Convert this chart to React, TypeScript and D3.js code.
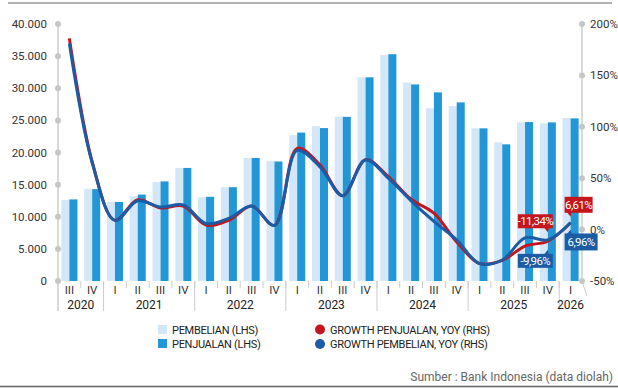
import React from "react";
import * as d3 from "d3";

const quarters = ["III","IV","I","II","III","IV","I","II","III","IV","I","II","III","IV","I","II","III","IV","I","II","III","IV","I"];
const years = ["2020","2020","2021","2021","2021","2021","2022","2022","2022","2022","2023","2023","2023","2023","2024","2024","2024","2024","2025","2025","2025","2025","2026"];
const pembelian = [12600,14300,12300,13200,15400,17600,13050,14600,19150,18700,22700,24100,25600,31700,35160,30900,26870,27230,23760,21580,24690,24540,25360];
const penjualan = [12700,14300,12300,13450,15500,17600,13100,14600,19150,18600,23100,23800,25550,31700,35300,30600,29360,27800,23760,21270,24740,24690,25310];
const growthPembelian = [181,65,9,28,22,24,6,11,23,4,77,61,33,68,50,28,8,-10,-33,-29.6,-8,-9.96,6.96];
const growthPenjualan = [186,66,9,29,21,23,4.5,9,23,4,79,63,33,68,51.5,29.5,16,-12,-33,-30,-16,-11.34,6.61];
const leftTicks = [0,5000,10000,15000,20000,25000,30000,35000,40000];
const rightTicks = [-50,0,50,100,150,200];

const W = 618, H = 388;
const C_LIGHT = "#d3e7f8";
const C_DARK = "#2397d6";
const C_RED = "#c4161c";
const C_BLUE = "#1b5ca5";
const FONT = "Roboto, 'DejaVu Sans', sans-serif";

export default function App() {
  const idx = quarters.map((_, i) => String(i));
  const x = d3.scaleBand().domain(idx).range([58, 582]).padding(0);
  const bw = x.bandwidth();
  const x1 = d3.scaleBand().domain(["p", "j"]).range([0, bw]).paddingInner(0).paddingOuter(0.42);
  const yL = d3.scaleLinear().domain([0, 40000]).range([281, 24]);
  const yR = d3.scaleLinear().domain([-50, 200]).range([281, 24]);
  const cx = (i: number) => (x(String(i)) as number) + bw / 2;

  const line = (vals: number[]) =>
    d3.line<number>().x((_, i) => cx(i)).y((v) => yR(v)).curve(d3.curveCatmullRom.alpha(0.5))(vals) as string;

  const yearGroups: { year: string; start: number; end: number }[] = [];
  years.forEach((yr, i) => {
    const last = yearGroups[yearGroups.length - 1];
    if (last && last.year === yr) last.end = i;
    else yearGroups.push({ year: yr, start: i, end: i });
  });
  const fmtL = (v: number) => d3.format(",")(v).replace(/,/g, ".");
  const fmtPct = (v: number) => d3.format(".2f")(v).replace(".", ",").replace("−", "-") + "%";

  const n = quarters.length;
  const lastI = n - 1;
  const prevI = n - 2;

  const labels = [
    { i: prevI, v: growthPenjualan[prevI], color: C_RED, dir: "down", w: 35, h: 14, gap: 13 },
    { i: prevI, v: growthPembelian[prevI], color: C_BLUE, dir: "up", w: 35, h: 14, gap: 14 },
    { i: lastI, v: growthPenjualan[lastI], color: C_RED, dir: "down", w: 28, h: 16, gap: 10 },
    { i: lastI, v: growthPembelian[lastI], color: C_BLUE, dir: "up", w: 33, h: 17, gap: 11 },
  ];

  return (
    <svg width={W} height={H} style={{ position: "absolute", left: 0, top: 0, fontFamily: FONT }}>
      <rect x={0} y={0} width={W} height={H} fill="#fff" />
      <line x1={8} x2={612} y1={3} y2={3} stroke="#9a9a9a" strokeWidth={1.5} />
      <line x1={0} x2={618} y1={386.5} y2={386.5} stroke="#666" strokeWidth={1.5} />

      {pembelian.map((v, i) => (
        <rect key={"p" + i} x={(x(String(i)) as number) + (x1("p") as number)} y={yL(v)} width={x1.bandwidth()} height={yL(0) - yL(v)} fill={C_LIGHT} />
      ))}
      {penjualan.map((v, i) => (
        <rect key={"j" + i} x={(x(String(i)) as number) + (x1("j") as number)} y={yL(v)} width={x1.bandwidth()} height={yL(0) - yL(v)} fill={C_DARK} />
      ))}

      <line x1={58} x2={58} y1={yL(40000)} y2={311} stroke="#cccccc" strokeWidth={1.5} />
      {leftTicks.map((t) => (
        <g key={"lt" + t}>
          <circle cx={58} cy={yL(t)} r={3} fill="#c6c6c6" />
          <text x={47} y={yL(t)} dy="0.35em" textAnchor="end" fontSize={11.5} fill="#333">{fmtL(t)}</text>
        </g>
      ))}
      <line x1={582} x2={582} y1={yR(200)} y2={yR(-50)} stroke="#cccccc" strokeWidth={1.5} />
      <line x1={582} x2={587} y1={yR(-50)} y2={296} stroke="#cccccc" strokeWidth={1} />
      {rightTicks.map((t) => (
        <g key={"rt" + t}>
          <circle cx={582} cy={yR(t)} r={3} fill="#c6c6c6" />
          <text x={590} y={yR(t)} dy="0.35em" textAnchor="start" fontSize={11.5} fill="#333">{t + "%"}</text>
        </g>
      ))}

      {quarters.map((q, i) => (
        <g key={"q" + i}>
          {i > 0 && <line x1={x(String(i))} x2={x(String(i))} y1={281} y2={288} stroke="#cccccc" strokeWidth={1} />}
          <text x={cx(i)} y={290} dy="0.35em" textAnchor="middle" fontSize={11.5} fill="#333">{q}</text>
        </g>
      ))}
      {yearGroups.map((g, k) => {
        const x0 = x(String(g.start)) as number;
        const xEnd = (x(String(g.end)) as number) + bw;
        return (
          <g key={"y" + g.year}>
            {k > 0 && <line x1={x0} x2={x0} y1={281} y2={311} stroke="#cccccc" strokeWidth={1} />}
            <text x={(x0 + xEnd) / 2} y={305} dy="0.35em" textAnchor="middle" fontSize={12} fill="#222">{g.year}</text>
          </g>
        );
      })}

      <path d={line(growthPenjualan)} fill="none" stroke={C_RED} strokeWidth={3} />
      <path d={line(growthPembelian)} fill="none" stroke={C_BLUE} strokeWidth={3} />

      {labels.map((l, k) => {
        const px = cx(l.i);
        const py = yR(l.v);
        const h = l.h;
        const bx = l.i === lastI ? px - 6 : px - l.w + 5;
        const by = l.dir === "down" ? py - l.gap - h : py + l.gap;
        const tri = l.dir === "down"
          ? `M${px - 4},${by + h - 1} L${px + 1},${by + h - 1} L${px},${by + h + 4} Z`
          : `M${px - 4},${by + 1} L${px + 1},${by + 1} L${px},${by - 4} Z`;
        return (
          <g key={"lab" + k}>
            <rect x={bx} y={by} width={l.w} height={h} fill={l.color} />
            <path d={tri} fill={l.color} />
            <text x={bx + l.w / 2} y={by + h / 2} dy="0.35em" textAnchor="middle" fontSize={11.5} fill="#fff" letterSpacing={-0.6}>{fmtPct(l.v)}</text>
          </g>
        );
      })}

      <rect x={158} y={325} width={9} height={9} fill={C_LIGHT} />
      <text x={172} y={330} dy="0.35em" fontSize={11} fill="#222" letterSpacing={-0.3}>PEMBELIAN (LHS)</text>
      <rect x={158} y={339} width={9} height={9} fill={C_DARK} />
      <text x={172} y={344} dy="0.35em" fontSize={11} fill="#222" letterSpacing={-0.3}>PENJUALAN (LHS)</text>
      <circle cx={320} cy={329.5} r={5} fill={C_RED} />
      <text x={330} y={330} dy="0.35em" fontSize={11} fill="#222" letterSpacing={-0.3}>GROWTH PENJUALAN, YOY (RHS)</text>
      <circle cx={320} cy={344} r={5} fill={C_BLUE} />
      <text x={330} y={344} dy="0.35em" fontSize={11} fill="#222" letterSpacing={-0.3}>GROWTH PEMBELIAN, YOY (RHS)</text>

      <text x={613} y={377} dy="0.35em" textAnchor="end" fontSize={12} fill="#666">Sumber : Bank Indonesia (data diolah)</text>
    </svg>
  );
}
